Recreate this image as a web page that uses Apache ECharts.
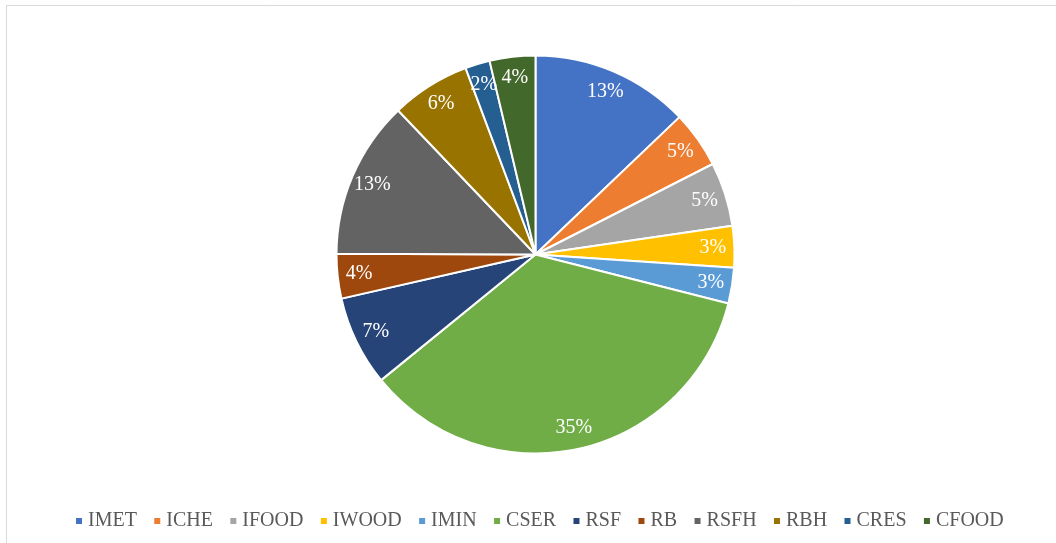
<!DOCTYPE html>
<html>
<head>
<meta charset="utf-8">
<script src="https://cdn.jsdelivr.net/npm/echarts@6/dist/echarts.min.js"></script>
<style>
html,body{margin:0;padding:0;background:#fff;}
#chart{width:1056px;height:543px;}
</style>
</head>
<body>
<div id="chart"></div>
<script>
const categories = ['IMET','ICHE','IFOOD','IWOOD','IMIN','CSER','RSF','RB','RSFH','RBH','CRES','CFOOD'];
const values = [12.85, 4.6, 5.2, 3.35, 2.9, 35.1, 7.3, 3.6, 12.8, 6.4, 2.0, 3.7];
const colors = ['#4472C4','#ED7D31','#A5A5A5','#FFC000','#5B9BD5','#70AD47','#264478','#9E480E','#636363','#997300','#255E91','#43682B'];

const data = categories.map((c, i) => ({ name: c, value: values[i], itemStyle: { color: colors[i] } }));
const labelData = categories.map((c, i) => ({ name: c, value: values[i] }));

const chart = echarts.init(document.getElementById('chart'), null, { renderer: 'canvas' });
chart.setOption({
  backgroundColor: '#ffffff',
  animation: false,
  graphic: [
    { type: 'line', shape: { x1: 6, y1: 5.5, x2: 1056, y2: 5.5 }, style: { stroke: '#d9d9d9', lineWidth: 1 } },
    { type: 'line', shape: { x1: 6.5, y1: 5, x2: 6.5, y2: 543 }, style: { stroke: '#d9d9d9', lineWidth: 1 } }
  ],
  legend: {
    bottom: 7,
    left: 69,
    icon: 'rect',
    itemWidth: 8,
    itemHeight: 8,
    itemGap: 15.4,
    textStyle: { fontFamily: 'Liberation Serif', fontSize: 20, color: '#595959' },
    data: categories
  },
  series: [
    {
      type: 'pie',
      center: [535.5, 254.5],
      radius: 199,
      startAngle: 90,
      clockwise: true,
      data: data,
      label: { show: false },
      labelLine: { show: false },
      itemStyle: { borderColor: '#ffffff', borderWidth: 2 },
      emphasis: { disabled: true }
    },
    {
      type: 'pie',
      center: [535.5, 254.5],
      radius: [150, 199],
      startAngle: 90,
      clockwise: true,
      silent: true,
      legendHoverLink: false,
      data: labelData,
      itemStyle: { color: 'rgba(0,0,0,0)', borderWidth: 0 },
      label: {
        show: true,
        position: 'inside',
        fontFamily: 'Liberation Serif',
        fontSize: 20,
        color: '#ffffff',
        formatter: p => Math.round(p.percent) + '%'
      },
      labelLine: { show: false },
      emphasis: { disabled: true }
    }
  ]
});
</script>
</body>
</html>
